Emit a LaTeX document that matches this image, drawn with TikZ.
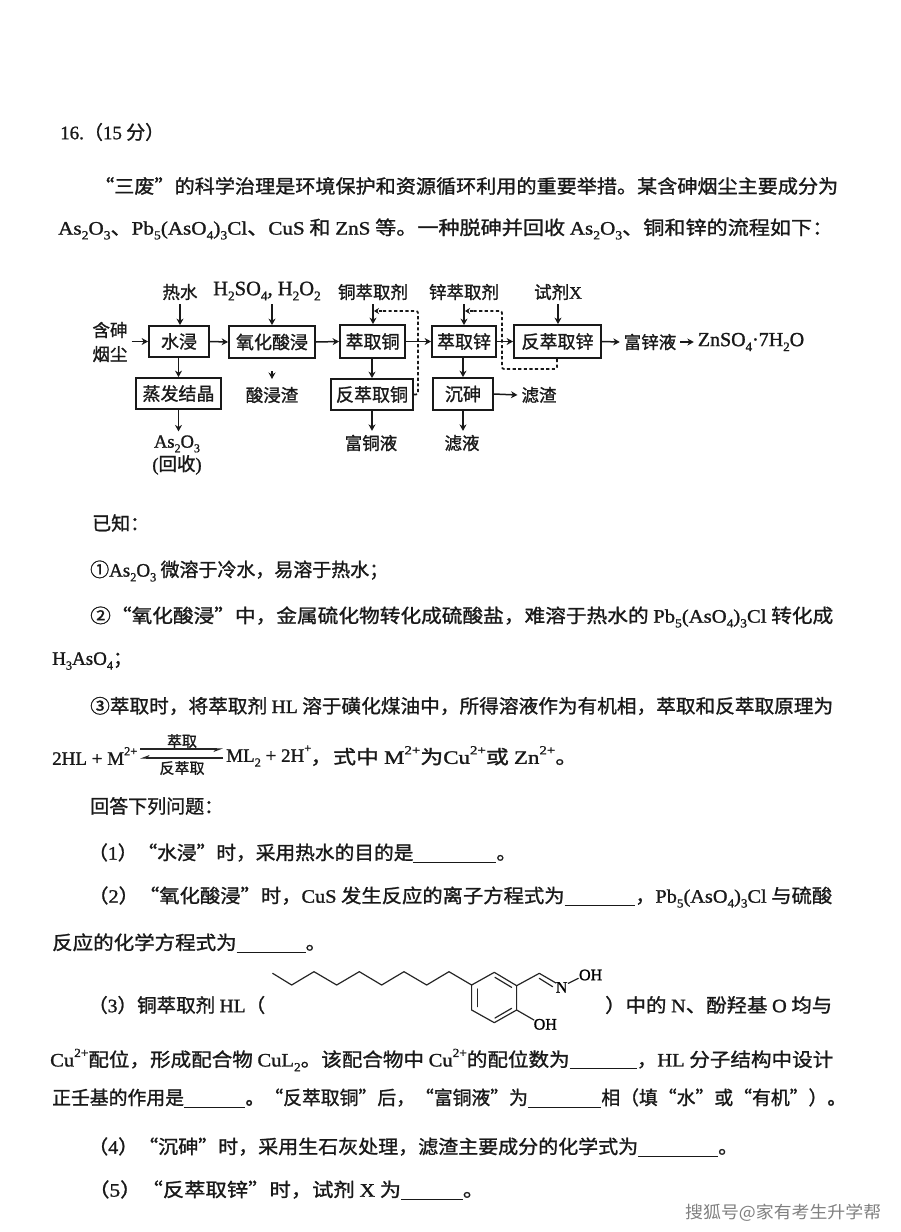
\documentclass[tikz,border=0pt]{standalone}
\usepackage{fontspec}
\usepackage{graphicx}
\setmainfont{Noto Sans CJK SC}[FakeBold=1.2]
\newfontfamily\lat{Liberation Serif}[FakeBold=1.2]
\newfontfamily\wmfont{Noto Sans CJK SC}
\usetikzlibrary{arrows.meta}
\newcommand{\lt}[1]{{\lat #1}}
\newcommand{\sbs}[1]{\raisebox{-0.25em}{\scalebox{0.65}{\lat #1}}}
\newcommand{\sps}[1]{\raisebox{0.5em}{\scalebox{0.65}{\lat #1}}}
\newcommand{\blank}[1]{\rule[-3pt]{#1pt}{1pt}}
\newcommand{\pbc}{\lt{Pb}\sbs{5}\lt{(AsO}\sbs{4}\lt{)}\sbs{3}\lt{Cl}}
\newcommand{\aso}{\lt{As}\sbs{2}\lt{O}\sbs{3}}
\newcommand{\cuion}{\lt{Cu}\sps{2+}}
\newcounter{tln}
\newcommand{\tl}[4]{\stepcounter{tln}\node[txt] (line\thetln) at (#1,#2) {\resizebox{#3pt}{\height}{#4}};}
\newcommand{\tn}[3]{\stepcounter{tln}\node[txt] (line\thetln) at (#1,#2) {#3};}
\tikzset{
  txt/.style={anchor=west,inner sep=0pt,font=\fontsize{19}{22}\selectfont,text=black!90},
  proc/.style={draw=black!90,line width=1.8pt,inner sep=0pt,font=\fontsize{18}{20}\selectfont,text=black!90},
  lbl/.style={inner sep=0pt,outer sep=4pt,font=\fontsize{17.5}{20}\selectfont,text=black!90},
  flow/.style={-{Stealth[length=6.5pt,width=7pt]},line width=1.5pt,black!90},
  loop/.style={line width=1.7pt,dash pattern=on 3.2pt off 2.4pt,black!90},
  looptip/.style={-{Stealth[length=5pt,width=6pt]},line width=1.7pt,dash pattern=on 3.2pt off 2.4pt,black!90},
  bond/.style={line width=1.2pt,black!85,line cap=round,line join=round},
}
\begin{document}
\begin{tikzpicture}[x=1pt,y=-1pt]
\useasboundingbox (0,0) rectangle (900,1232);
% ---- body text
\tn{60}{132}{\lt{16.}（\lt{15} 分）}
\tl{94}{186}{744}{“三废”的科学治理是环境保护和资源循环利用的重要举措。某含砷烟尘主要成分为}
\tl{58}{229}{775}{\aso、\pbc、\lt{CuS} 和 \lt{ZnS} 等。一种脱砷并回收 \aso、铜和锌的流程如下：}
\tn{92}{523}{已知：}
\tl{90}{571}{298}{①\aso{} 微溶于冷水，易溶于热水；}
\tl{90}{617}{743}{②“氧化酸浸”中，金属硫化物转化成硫酸盐，难溶于热水的 \pbc{} 转化成}
\tn{52}{661}{\lt{H}\sbs{3}\lt{AsO}\sbs{4}；}
\tl{90}{706}{743}{③萃取时，将萃取剂 \lt{HL} 溶于磺化煤油中，所得溶液作为有机相，萃取和反萃取原理为}
% equation
\tn{52}{756}{\lt{2HL + M}\sps{2+}}
\coordinate (eqA) at (140,749);
\coordinate (eqB) at (223,749);
\coordinate (eqC) at (223,758);
\coordinate (eqD) at (140,758);
\draw[-{Stealth[harpoon,swap,length=8pt,width=6pt]},line width=1.2pt,black!85] (eqA) -- (eqB);
\draw[-{Stealth[harpoon,swap,length=8pt,width=6pt]},line width=1.2pt,black!85] (eqC) -- (eqD);
\node[lbl,font=\fontsize{15}{16}\selectfont] (eqtop) at (182,741) {萃取};
\node[lbl,font=\fontsize{15}{16}\selectfont] (eqbot) at (182,768) {反萃取};
\tn{226}{756}{\lt{ML}\sbs{2}\lt{ + 2H}\sps{+}}
\tl{310}{756}{268}{，式中 \lt{M}\sps{2+}为\cuion 或 \lt{Zn}\sps{2+}。}
\tn{90}{806}{回答下列问题：}
\tl{88}{853}{428}{（\lt{1}）“水浸”时，采用热水的目的是\blank{80}。}
\tl{88}{897}{744}{（\lt{2}）“氧化酸浸”时，\lt{CuS} 发生反应的离子方程式为\blank{66}，\pbc{} 与硫酸}
\tl{52}{943}{274}{反应的化学方程式为\blank{64}。}
\tl{88}{1005}{177}{（\lt{3}）铜萃取剂 \lt{HL}（}
\tl{605}{1005}{227}{）中的 \lt{N}、酚羟基 \lt{O} 均与}
\tl{50}{1060}{783}{\cuion 配位，形成配合物 \lt{CuL}\sbs{2}。该配合物中 \cuion 的配位数为\blank{62}，\lt{HL} 分子结构中设计}
\tl{52}{1098}{794}{正壬基的作用是\blank{62}。“反萃取铜”后，“富铜液”为\blank{74}相（填“水”或“有机”）。}
\tl{88}{1147}{650}{（\lt{4}）“沉砷”时，采用生石灰处理，滤渣主要成分的化学式为\blank{76}。}
\tl{88}{1190}{396}{（\lt{5}）“反萃取锌”时，试剂 \lt{X} 为\blank{55}。}
\node[inner sep=0pt,anchor=west,font=\fontsize{17}{20}\selectfont,text=black!50] (wm) at (685,1213) {\resizebox{196pt}{\height}{\wmfont 搜狐号@家有考生升学帮}};
% ---- flow chart: process boxes
\node[proc,minimum width=60pt,minimum height=31pt] (sj) at (179,341.5) {水浸};
\node[proc,minimum width=86pt,minimum height=32pt] (yh) at (272,342) {氧化酸浸};
\node[proc,minimum width=65pt,minimum height=33pt] (cu) at (372.5,341.5) {萃取铜};
\node[proc,minimum width=64pt,minimum height=31pt] (zn) at (464,341.5) {萃取锌};
\node[proc,minimum width=87pt,minimum height=33pt] (fz) at (557.5,341.5) {反萃取锌};
\node[proc,minimum width=85pt,minimum height=31pt] (zf) at (178.5,393.5) {蒸发结晶};
\node[proc,minimum width=82pt,minimum height=31pt] (fc) at (372,394.5) {反萃取铜};
\node[proc,minimum width=60pt,minimum height=32pt] (cs) at (463,394) {沉砷};
% labels
\node[lbl] (rs) at (180,292) {热水};
\node[lbl,font=\fontsize{20.5}{22}\selectfont] (hs) at (267,291) {\lt{H}\sbs{2}\lt{SO}\sbs{4}\lt{, H}\sbs{2}\lt{O}\sbs{2}};
\node[lbl] (tj) at (373,292) {铜萃取剂};
\node[lbl] (xj) at (464,292) {锌萃取剂};
\node[lbl] (sx) at (558,292) {试剂\lt{X}};
\node[lbl,align=center,font=\fontsize{17.5}{24}\selectfont] (hy) at (110,342) {含砷\\烟尘};
\node[lbl] (szz) at (272,395) {酸浸渣};
\node[lbl] (ftl) at (371,443) {富铜液};
\node[lbl] (ly) at (462,443) {滤液};
\node[lbl] (lz) at (539,395) {滤渣};
\node[lbl,align=center,font=\fontsize{18.5}{23}\selectfont] (as) at (177,455) {\aso\\\lt{(}回收\lt{)}};
\node[lbl] (fx) at (650,342) {富锌液};
\node[lbl,font=\fontsize{20}{22}\selectfont] (zs) at (751,342) {\lt{ZnSO}\sbs{4}\lt{·7H}\sbs{2}\lt{O}};
% horizontal flows
\draw[flow] (hy.east |- sj.west) -- (sj.west);
\draw[flow] (sj.east) -- (yh.west);
\draw[flow] (yh.east) -- (cu.west);
\draw[flow] (cu.east) -- (zn.west);
\draw[flow] (zn.east) -- (fz.west);
\draw[flow] (fz.east) -- (fx.west);
\draw[flow] (fx.east) -- (zs.west);
\draw[flow] (cs.east) -- (lz.west);
% feeds from above
\draw[flow] (rs.south) -- (sj.north -| rs.south);
\draw[flow] (yh.north |- hs.south) -- (yh.north);
\draw[flow] (tj.south) -- (cu.north -| tj.south);
\draw[flow] (zn.north |- xj.south) -- (zn.north);
\draw[flow] (sx.south) -- (fz.north -| sx.south);
% downward flows
\draw[flow] (sj.south -| zf.north) -- (zf.north);
\draw[flow] (fc.north |- cu.south) -- (fc.north);
\draw[flow] (zn.south -| cs.north) -- (cs.north);
\draw[flow] (zf.south) -- (zf.south |- as.north);
\draw[flow] (fc.south) -- (ftl.north -| fc.south);
\draw[flow] (cs.south) -- (ly.north -| cs.south);
\coordinate (stubA) at (272,371);
\coordinate (stubB) at (272,379);
\draw[flow] (stubA) -- (stubB);
% recycle loops
\coordinate (cuT) at (374,311);
\coordinate (cuR) at (418,311);
\coordinate (znT) at (465,311);
\coordinate (znR) at (502,311);
\coordinate (znB) at (502,369);
\coordinate (fzB) at (557,369);
\draw[loop,rounded corners=2pt] (fc.east) -- (fc.east -| cuR) -- (cuR) -- (382,311);
\draw[looptip] (382,311) -- (cuT);
\draw[loop,rounded corners=2pt] (fzB |- fz.south) -- (fzB) -- (znB) -- (znR) -- (473,311);
\draw[looptip] (473,311) -- (znT);
% ---- structural formula
\begin{scope}[shift={(250,955)},x=0.3333pt,y=-0.3333pt]
\draw[bond] (68,55) -- (125,90) -- (192,50) -- (260,90) -- (328,50) -- (395,90) -- (462,50) -- (530,90) -- (597,50) -- (665,90);
\draw[bond] (665,90) -- (733,52) -- (800,92) -- (800,165) -- (733,203) -- (665,165) -- cycle;
\draw[bond] (682,102) -- (682,155);
\draw[bond] (735,67) -- (785,97);
\draw[bond] (735,189) -- (785,160);
\draw[bond] (800,92) -- (868,55) -- (918,84);
\draw[bond] (868,70) -- (908,95);
\draw[bond] (800,165) -- (852,195);
\draw[bond] (955,85) -- (985,70);
\node[inner sep=0pt,font=\fontsize{16}{18}\selectfont] (nat) at (935,97) {\lt{N}};
\node[inner sep=0pt,font=\fontsize{16}{18}\selectfont] (oh1) at (1022,60) {\lt{OH}};
\node[inner sep=0pt,font=\fontsize{16}{18}\selectfont] (oh2) at (886,208) {\lt{OH}};
\end{scope}
\end{tikzpicture}
\end{document}
